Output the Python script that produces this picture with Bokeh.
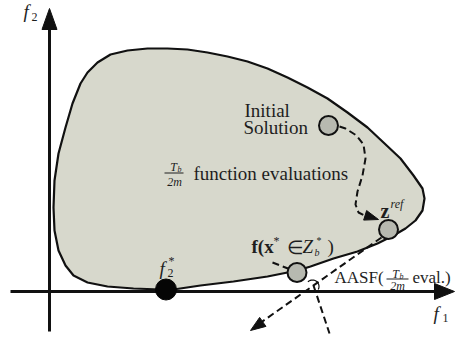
import numpy as np
from bokeh.plotting import figure
from bokeh.models import Range1d
from bokeh.core.properties import value
from bokeh.embed import file_html
from bokeh.resources import INLINE

# ---- geometry (window pixel coordinates, y downward) ----
blob_x = [80, 87, 97, 110, 127, 147, 167, 187, 207, 227, 247, 267, 287, 307, 327, 347, 367,
          383, 400, 413, 422, 424, 422, 415, 405, 393, 377, 357, 333, 310, 297, 267, 233, 200,
          173, 160, 133, 107, 87, 73, 65, 58, 54, 53, 54, 58, 65, 72]
blob_y = [83, 72, 62, 54, 50, 48, 48, 49, 52, 56, 61, 68, 77, 87, 98, 112, 127,
          142, 158, 175, 188, 198, 210, 220, 228, 235, 243, 251, 258, 266, 270, 276, 281, 285,
          289, 289, 288, 286, 282, 275, 265, 250, 230, 207, 180, 153, 127, 103]

vaxis_x = [49, 49]
vaxis_y = [331, 26]
haxis_x = [10, 436]
haxis_y = [291, 291]

# path from initial solution to z_ref
path_x = [339, 345, 356, 363, 365, 362, 357, 355, 358, 366]
path_y = [126, 128, 135, 144, 158, 175, 191, 204, 212, 216]
# AASF direction line
aasf_x = [381, 259]
aasf_y = [237, 323]
# perpendicular line
perp_x = [313, 329]
perp_y = [285, 333]
# label leader line
lead_x = [272, 290]
lead_y = [262, 269]

# arrow heads: (tip_x, tip_y, from_x, from_y, length, width)
heads = [
    (49, 8, 49, 40, 21, 15),
    (454, 291, 420, 291, 20, 16),
    (378, 219, 362, 214, 14, 10),
    (250, 330, 300, 295, 15, 11),
]

# circles
pt_names = ["initial", "zref", "fx"]
pt_x = [328, 388, 296.5]
pt_y = [125, 229, 272]
star_x = [165.5]
star_y = [289]

# ---- figure ----
p = figure(width=457, height=337, x_range=Range1d(0, 457), y_range=Range1d(337, 0),
           output_backend="svg", toolbar_location=None, min_border=0)
p.axis.visible = False
p.grid.visible = False
p.outline_line_color = None
p.background_fill_color = "white"
p.border_fill_color = "white"

INK = "#111111"
p.patch(blob_x, blob_y, fill_color="#d7d8cc", line_color=INK, line_width=2.2)

p.line(vaxis_x, vaxis_y, line_color=INK, line_width=3)
p.line(haxis_x, haxis_y, line_color=INK, line_width=3)

dash = "7 4"
p.line(path_x, path_y, line_color=INK, line_width=2, line_dash=dash)
p.line(aasf_x, aasf_y, line_color=INK, line_width=2, line_dash=dash)
p.line(perp_x, perp_y, line_color=INK, line_width=2, line_dash=dash)
p.line(lead_x, lead_y, line_color=INK, line_width=2, line_dash=dash)

# right-angle arc marker
ang = np.radians(np.linspace(-135, 27, 20))
p.line(312 + 6.5 * np.cos(ang), 286 + 6.5 * np.sin(ang), line_color=INK, line_width=1.2)

hx, hy = [], []
for tx, ty, fx, fy, L, W in heads:
    d = np.array([tx - fx, ty - fy], dtype=float)
    d /= np.linalg.norm(d)
    n = np.array([-d[1], d[0]])
    b = np.array([tx, ty]) - d * L
    hx.append([tx, b[0] + n[0] * W / 2, b[0] - n[0] * W / 2])
    hy.append([ty, b[1] + n[1] * W / 2, b[1] - n[1] * W / 2])
p.patches(hx, hy, fill_color=INK, line_color=INK, line_width=1)

p.scatter(pt_x, pt_y, size=19, fill_color="#b7b9b0", line_color=INK, line_width=2)
p.scatter(star_x, star_y, size=21, fill_color="#050505", line_color="#050505")

FONT = value("Liberation Serif")
TC = "#1e1e1e"

def txt(x, y, s, size, style="normal", align="left"):
    p.text([x], [y], text=[s], text_font=FONT, text_font_size=f"{size}px",
           text_font_style=style, text_align=align, text_baseline="middle", text_color=TC)

BIG = 19
SM = 12
# axis labels
txt(23, 11, "f", BIG, "italic")
txt(31, 16, "2", SM)
txt(433, 313, "f", BIG, "italic")
txt(442, 317, "1", SM)
# initial solution
txt(244, 110, "Initial", BIG)
txt(243, 127, "Solution", BIG)
# fraction + function evaluations
txt(173, 166, "T", SM, "italic", "center")
txt(177, 169, "b", 8, "italic")
p.line([164, 183], [172.5, 172.5], line_color=TC, line_width=1)
txt(174, 181, "2m", SM, "italic", "center")
txt(193, 173, "function evaluations", BIG)
# z ref
txt(380, 210, "z", BIG + 1, "bold")
txt(390, 203, "ref", SM, "italic")
# f(x* in Z_b*)
txt(251, 246, "f(x", BIG, "bold")
txt(273, 240, "*", SM)
txt(286, 247, "\u2208", BIG)
txt(302, 246, "Z", BIG, "italic")
txt(314, 252, "b", 10, "italic")
txt(316, 240, "*", 10)
txt(327, 246, ")", BIG)
# f2*
txt(159, 268, "f", BIG, "italic")
txt(168, 260, "*", SM)
txt(167, 272, "2", SM)
# AASF
txt(334, 277, "AASF(", 17)
txt(395, 273, "T", SM, "italic", "center")
txt(399, 276, "b", 8, "italic")
p.line([386, 408], [278.5, 278.5], line_color=TC, line_width=1)
txt(397, 285, "2m", SM, "italic", "center")
txt(412, 277, "eval.)", 17)

open("out.html", "w").write(file_html(p, INLINE))
